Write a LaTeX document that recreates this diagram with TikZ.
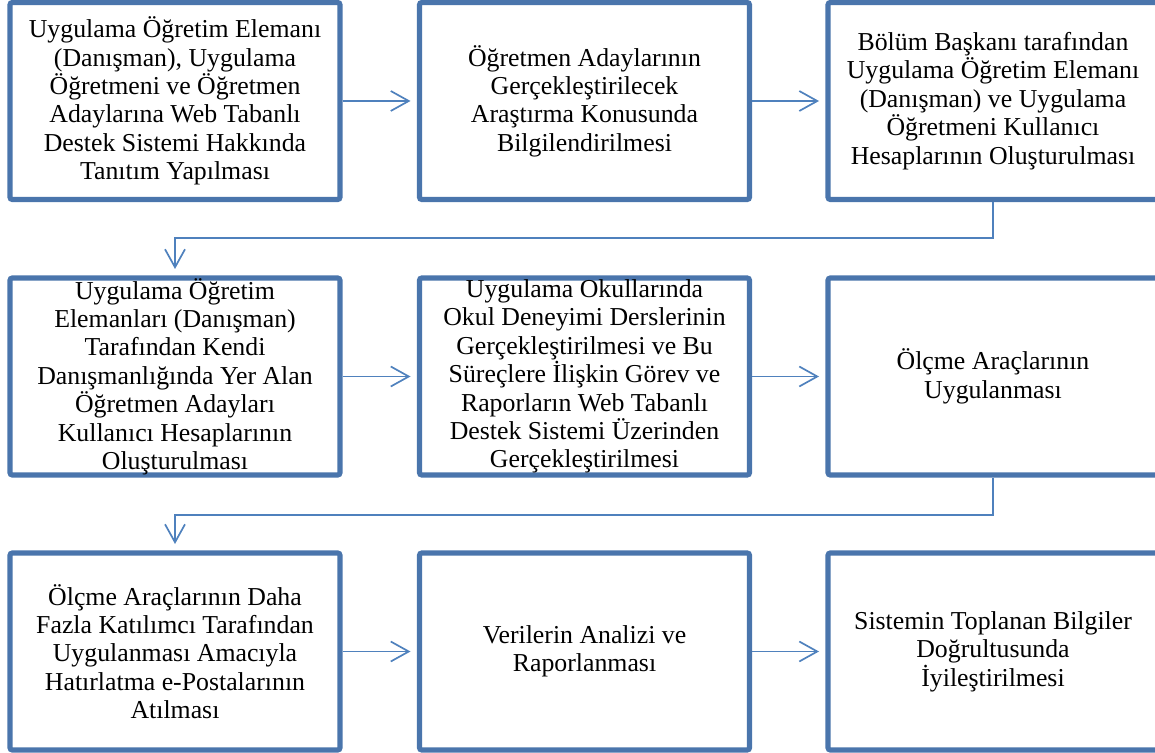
\documentclass[tikz,border=0pt]{standalone}
\usepackage{fontspec}
\setmainfont{Liberation Serif}
\usepackage{tikz}
\usetikzlibrary{arrows.meta, positioning}

\definecolor{kutu}{RGB}{74,117,172}
\definecolor{ok}{RGB}{79,129,189}

\tikzset{
	adim/.style={draw=kutu, line width=2.6pt, rounded corners=1.2pt, fill=white,
		minimum width=165pt, minimum height=98.5pt, inner sep=0pt, align=center,
		font=\fontsize{12.9}{14.2}\selectfont},
	okcizgi/.style={draw=ok, line width=0.85pt, shorten >=3.2pt,
		-{Straight Barb[length=9pt, width=10pt, line width=0.85pt]}}
}

\begin{document}
\begin{tikzpicture}[x=0.5pt, y=-0.5pt]
		\useasboundingbox (0,0) rectangle (1155,753);
		
		% first row
		\node[adim] (a) at (175,101) {Uygulama Öğretim Elemanı\\(Danışman), Uygulama\\Öğretmeni ve Öğretmen\\Adaylarına Web Tabanlı\\Destek Sistemi Hakkında\\Tanıtım Yapılması};
		\node[adim] (b) at (584.5,101) {Öğretmen Adaylarının\\Gerçekleştirilecek\\Araştırma Konusunda\\Bilgilendirilmesi};
		\node[adim] (c) at (993,101) {Bölüm Başkanı tarafından\\Uygulama Öğretim Elemanı\\(Danışman) ve Uygulama\\Öğretmeni Kullanıcı\\Hesaplarının Oluşturulması};
		
		% second row
		\node[adim] (d) at (175,376.5) {Uygulama Öğretim\\Elemanları (Danışman)\\Tarafından Kendi\\Danışmanlığında Yer Alan\\Öğretmen Adayları\\Kullanıcı Hesaplarının\\Oluşturulması};
		\node[adim] (e) at (584.5,376.5) {Uygulama Okullarında\\Okul Deneyimi Derslerinin\\Gerçekleştirilmesi ve Bu\\Süreçlere İlişkin Görev ve\\Raporların Web Tabanlı\\Destek Sistemi Üzerinden\\Gerçekleştirilmesi};
		\node[adim] (f) at (993,376.5) {Ölçme Araçlarının\\Uygulanması};
		
		% third row
		\node[adim] (g) at (175,651.5) {Ölçme Araçlarının Daha\\Fazla Katılımcı Tarafından\\Uygulanması Amacıyla\\Hatırlatma e-Postalarının\\Atılması};
		\node[adim] (h) at (584.5,651.5) {Verilerin Analizi ve\\Raporlanması};
		\node[adim] (i) at (993,651.5) {Sistemin Toplanan Bilgiler\\Doğrultusunda\\İyileştirilmesi};
		
		\coordinate (k1) at (0,238);
		\coordinate (k2) at (0,515);
		
		\draw[okcizgi] (a.east) -- (b.west);
		\draw[okcizgi] (b.east) -- (c.west);
		\draw[okcizgi] (c.south) -- (c.south |- k1) -| (d.north);
		\draw[okcizgi] (d.east) -- (e.west);
		\draw[okcizgi] (e.east) -- (f.west);
		\draw[okcizgi] (f.south) -- (f.south |- k2) -| (g.north);
		\draw[okcizgi] (g.east) -- (h.west);
		\draw[okcizgi] (h.east) -- (i.west);

	\end{tikzpicture}
\end{document}
